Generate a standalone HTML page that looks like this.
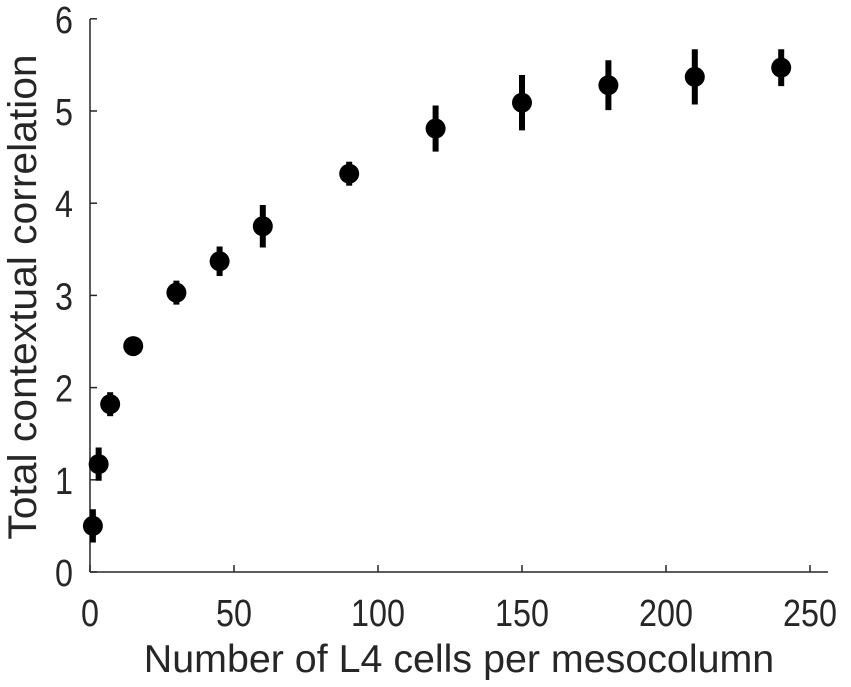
<!DOCTYPE html>
<html><head><meta charset="utf-8"><style>
html,body{margin:0;padding:0;background:#fff;}
svg{display:block;font-family:"Liberation Sans",Arial,sans-serif;}
</style></head><body>
<svg id="chart" width="851" height="687">
<g id="axes"></g><g id="marks"></g>
</svg>
<script>
const xValues=[1,3,7,15,30,45,60,90,120,150,180,210,240];
const yValues=[0.5,1.17,1.82,2.45,3.03,3.37,3.75,4.32,4.81,5.09,5.28,5.37,5.47];
const yErrors=[0.18,0.18,0.13,0.07,0.13,0.16,0.23,0.13,0.25,0.3,0.27,0.3,0.2];
const xTicks=[0,50,100,150,200,250];
const yTicks=[0,1,2,3,4,5,6];
const NS="http://www.w3.org/2000/svg";
const X0=90,XS=2.88,Y0=572,YS=92.2;
const sx=v=>X0+v*XS, sy=v=>Y0-v*YS;
function mk(tag,attrs,parent,text){const e=document.createElementNS(NS,tag);for(const k in attrs)e.setAttribute(k,attrs[k]);if(text!==undefined)e.textContent=text;parent.appendChild(e);return e;}
const ax=document.getElementById('axes'),mg=document.getElementById('marks');
let l=mk('line',{x1:X0,y1:Y0,x2:828,y2:Y0,stroke:'#262626','stroke-width':1.5},ax);


l=mk('line',{x1:X0,y1:Y0,x2:X0,y2:19,stroke:'#262626','stroke-width':1.5},ax);


xTicks.forEach(t=>{
 mk('line',{x1:sx(t),y1:Y0,x2:sx(t),y2:Y0-7,stroke:'#262626','stroke-width':1.5},ax);
 const tx=mk('text',{x:sx(t),y:626,'text-anchor':'middle','font-size':38,fill:'#262626','transform':`translate(${sx(t)*0.15},0) scale(0.85,1)`},ax,String(t));
 
 
});
yTicks.forEach(t=>{
 mk('line',{x1:X0,y1:sy(t),x2:X0+7,y2:sy(t),stroke:'#262626','stroke-width':1.5},ax);
 const tx=mk('text',{x:73,y:sy(t)+14,'text-anchor':'end','font-size':38,fill:'#262626','transform':`translate(${73*0.15},0) scale(0.85,1)`},ax,String(t));
 
 
});
let xl=mk('text',{x:0,y:0,'text-anchor':'middle','font-size':39,fill:'#262626',transform:'translate(459,672) scale(1.01,1)'},ax,'Number of L4 cells per mesocolumn');


let yl=mk('text',{x:0,y:0,'text-anchor':'middle','font-size':40,fill:'#262626',transform:'translate(36,297) rotate(-90) scale(1.02,1)'},ax,'Total contextual correlation');


xValues.forEach((x,i)=>{
 const g=mk('g',{},mg);
 
 
 mk('line',{x1:sx(x),x2:sx(x),y1:sy(yValues[i]-yErrors[i]),y2:sy(yValues[i]+yErrors[i]),stroke:'#000','stroke-width':6},g);
 mk('circle',{cx:sx(x),cy:sy(yValues[i]),r:10,fill:'#000'},g);
});
</script>
</body></html>
